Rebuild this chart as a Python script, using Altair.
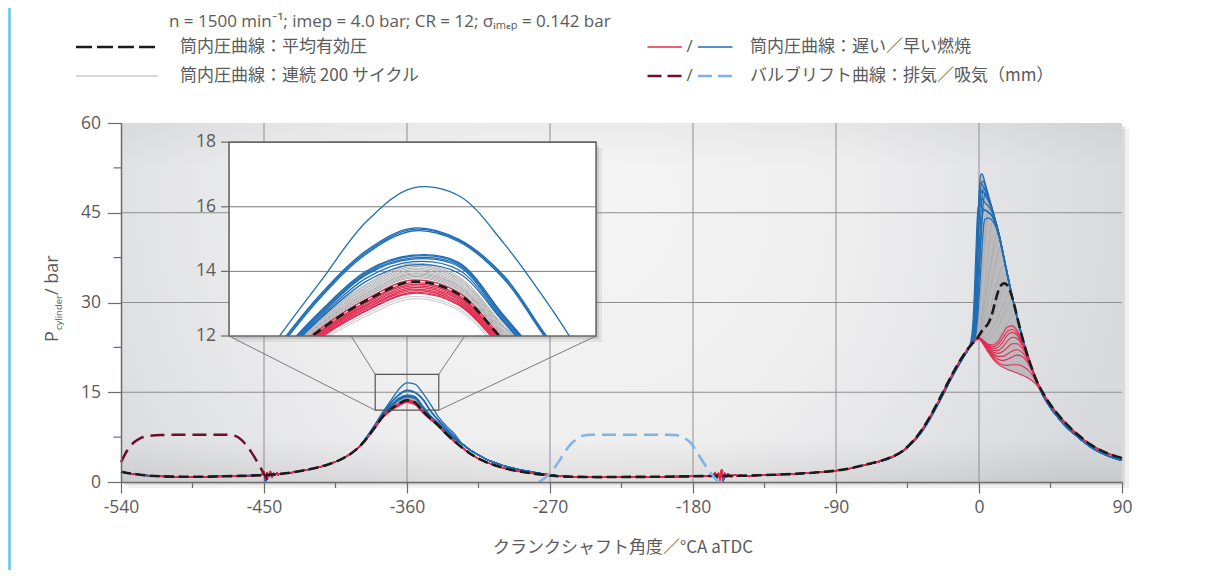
import altair as alt
import pandas as pd

alt.data_transformers.disable_max_rows()

# ---------------- layout ----------------
W, H = 1001, 359
PAD = {"left": 113, "top": 115, "right": 70, "bottom": 88}

X_DOMAIN = [-540, 90]
Y_DOMAIN = [0, 60]
X_TICKS = [-540, -450, -360, -270, -180, -90, 0, 90]
X_MINOR = [-495, -405, -315, -225, -135, -45, 45]
Y_TICKS = [0, 15, 30, 45, 60]
Y_MINOR = [7.5, 22.5, 37.5, 52.5]
GRID_X = [-450, -360, -270, -180, -90, 0]
GRID_Y = [15, 30, 45]

ZOOM_X = [-380, -340]
ZOOM_Y = [12, 18]
INSET_AT_X = [-472, -241]
INSET_AT_Y = [24.4, 56.8]
INSET_TICKS = [12, 14, 16, 18]
INSET_GRID = [14, 16]

# ---------------- texts ----------------
PARAMS = "n = 1500 min⁻¹; imep = 4.0 bar; CR = 12; σᵢₘₑₚ = 0.142 bar"
LEG_MEAN = "筒内圧曲線：平均有効圧"
LEG_CYC = "筒内圧曲線：連続 200 サイクル"
LEG_BURN = "筒内圧曲線：遅い／早い燃焼"
LEG_VALVE = "バルブリフト曲線：排気／吸気（mm）"
X_TITLE = "クランクシャフト角度／°CA aTDC"
Y_TITLE = ["P", "cylinder", "/ bar"]

# ---------------- data: gas exchange part ----------------
X_A = [-540, -536, -532, -528, -522, -515, -505, -495, -485, -475, -465, -455,
       -450, -445, -440, -435, -430, -420, -410, -400, -395, -390]
A_MEAN = [1.7, 1.5, 1.35, 1.2, 1.05, 0.95, 0.9, 0.88, 0.9, 0.95, 1.02, 1.1,
          1.15, 1.25, 1.35, 1.5, 1.7, 2.2, 2.9, 4.0, 4.8, 5.9]
X_NA = [-454, -452, -450, -449, -448, -447, -446, -445, -444, -443, -442, -441, -440, -438]
NA_R = [1.1, 1.15, 1.7, 0.5, 1.6, 0.9, 1.8, 1.0, 1.5, 1.1, 1.55, 1.25, 1.4, 1.4]
NA_B = [1.1, 1.2, 1.4, 0.1, 1.2, 1.0, 1.5, 0.8, 1.3, 1.2, 1.45, 1.2, 1.35, 1.4]

# ---------------- data: peak near -360 ----------------
PX = [-385, -380, -375, -370, -365, -360, -355, -350, -345, -340, -335, -330]
P_MEAN = [7.4, 9.2, 11.0, 12.2, 13.1, 13.68, 13.3, 11.85, 10.6, 9.4, 8.0, 6.8]
P_GRAY = [
    [7.49, 9.34, 11.26, 12.60, 13.61, 14.25, 13.84, 12.31, 10.94, 9.66, 8.20, 6.94],
    [7.47, 9.32, 11.21, 12.53, 13.52, 14.15, 13.75, 12.23, 10.88, 9.61, 8.16, 6.92],
    [7.46, 9.29, 11.17, 12.46, 13.43, 14.05, 13.65, 12.15, 10.82, 9.57, 8.13, 6.89],
    [7.44, 9.27, 11.12, 12.39, 13.34, 13.95, 13.56, 12.07, 10.76, 9.52, 8.09, 6.87],
    [7.43, 9.25, 11.09, 12.34, 13.28, 13.88, 13.49, 12.01, 10.72, 9.49, 8.07, 6.85],
    [7.42, 9.23, 11.05, 12.28, 13.21, 13.80, 13.41, 11.95, 10.67, 9.45, 8.04, 6.83],
    [7.48, 9.33, 11.23, 12.56, 13.57, 14.20, 13.79, 12.27, 10.91, 9.63, 8.18, 6.93],
    [7.46, 9.31, 11.19, 12.49, 13.48, 14.10, 13.70, 12.19, 10.85, 9.59, 8.15, 6.91],
    [7.45, 9.28, 11.14, 12.42, 13.39, 14.00, 13.60, 12.11, 10.79, 9.54, 8.11, 6.88],
    [7.44, 9.26, 11.11, 12.37, 13.32, 13.92, 13.53, 12.04, 10.74, 9.51, 8.08, 6.86],
    [7.42, 9.24, 11.07, 12.31, 13.24, 13.84, 13.45, 11.98, 10.70, 9.47, 8.06, 6.84],
    [7.41, 9.22, 11.03, 12.24, 13.15, 13.74, 13.36, 11.90, 10.64, 9.43, 8.02, 6.82],
]
P_GRAY_LIGHT = [
    [7.39, 9.18, 10.96, 12.14, 13.03, 13.60, 13.22, 11.79, 10.55, 9.36, 7.97, 6.78],
    [7.37, 9.15, 10.92, 12.07, 12.94, 13.50, 13.13, 11.71, 10.49, 9.32, 7.94, 6.75],
    [7.36, 9.13, 10.88, 12.02, 12.87, 13.42, 13.05, 11.64, 10.44, 9.28, 7.91, 6.73],
    [7.35, 9.11, 10.84, 11.95, 12.78, 13.32, 12.96, 11.56, 10.38, 9.24, 7.87, 6.71],
    [7.33, 9.08, 10.79, 11.88, 12.69, 13.22, 12.86, 11.48, 10.32, 9.19, 7.84, 6.68],
    [7.32, 9.07, 10.76, 11.83, 12.62, 13.15, 12.80, 11.43, 10.28, 9.16, 7.81, 6.67],
]
P_RED = [
    [7.41, 9.21, 11.02, 12.24, 13.15, 13.73, 13.35, 11.89, 10.63, 9.42, 8.02, 6.81],
    [7.40, 9.19, 10.99, 12.18, 13.07, 13.65, 13.27, 11.83, 10.58, 9.39, 7.99, 6.79],
    [7.39, 9.18, 10.96, 12.14, 13.03, 13.60, 13.22, 11.79, 10.55, 9.36, 7.97, 6.78],
    [7.38, 9.17, 10.94, 12.11, 12.98, 13.55, 13.18, 11.75, 10.52, 9.34, 7.95, 6.77],
    [7.37, 9.15, 10.92, 12.07, 12.94, 13.50, 13.13, 11.71, 10.49, 9.32, 7.94, 6.75],
    [7.37, 9.14, 10.90, 12.04, 12.89, 13.45, 13.08, 11.67, 10.46, 9.30, 7.92, 6.74],
    [7.36, 9.13, 10.87, 12.00, 12.85, 13.40, 13.03, 11.63, 10.43, 9.27, 7.90, 6.73],
    [7.35, 9.12, 10.85, 11.97, 12.80, 13.35, 12.99, 11.59, 10.40, 9.25, 7.88, 6.72],
    [7.35, 9.11, 10.84, 11.95, 12.78, 13.32, 12.96, 11.56, 10.38, 9.24, 7.87, 6.71],
]
P_BLUE = [
    [7.70, 9.70, 11.80, 13.70, 15.55, 16.58, 16.35, 14.85, 12.90, 10.80, 9.30, 8.00],
    [7.65, 9.55, 11.55, 13.30, 14.65, 15.34, 15.00, 13.85, 11.85, 10.30, 8.90, 7.60],
    [7.64, 9.53, 11.50, 13.25, 14.60, 15.30, 14.97, 13.80, 11.80, 10.25, 8.85, 7.57],
    [7.63, 9.50, 11.45, 13.20, 14.55, 15.25, 14.93, 13.75, 11.75, 10.20, 8.80, 7.55],
    [7.55, 9.40, 11.25, 12.78, 14.02, 14.50, 14.28, 12.60, 11.00, 9.75, 8.45, 7.30],
    [7.54, 9.38, 11.22, 12.75, 13.98, 14.47, 14.25, 12.62, 11.00, 9.72, 8.43, 7.28],
    [7.53, 9.37, 11.20, 12.70, 13.94, 14.42, 14.20, 12.55, 10.95, 9.70, 8.40, 7.25],
    [7.52, 9.35, 11.17, 12.66, 13.90, 14.38, 14.15, 12.50, 10.90, 9.65, 8.37, 7.22],
    [7.50, 9.33, 11.13, 12.60, 13.80, 14.30, 14.05, 12.45, 10.85, 9.60, 8.33, 7.20],
    [7.50, 9.32, 11.10, 12.55, 13.70, 14.20, 13.95, 12.40, 10.80, 9.55, 8.30, 7.18],
]

# ---------------- data: expansion / intake / compression ----------------
X_C = [-325, -320, -315, -310, -300, -290, -280, -270, -260, -250, -240, -220, -200,
       -180, -170, -150, -130, -110, -100, -90, -80, -70, -60, -55, -50, -45, -40,
       -35, -30, -25, -20, -15, -10, -8, -6, -4, -2]
C_MEAN = [5.7, 4.7, 3.9, 3.3, 2.4, 1.8, 1.4, 1.1, 0.9, 0.85, 0.82, 0.85, 0.88,
          0.95, 1.0, 1.05, 1.2, 1.45, 1.65, 1.9, 2.35, 3.0, 3.7, 4.2, 4.85, 5.9, 7.3,
          9.1, 11.3, 13.8, 16.4, 18.9, 21.1, 21.9, 22.6, 23.2, 23.75]
C_BLUE = [6.3, 5.3, 4.5, 3.8, 2.8, 2.1, 1.6, 1.2, 0.95, 0.87, 0.83, 0.85, 0.88,
          0.95, 1.0, 1.05, 1.2, 1.45, 1.65, 1.88, 2.3, 2.95, 3.6, 4.1, 4.75, 5.75, 7.1,
          8.8, 10.95, 13.4, 16.0, 18.5, 20.8, 21.6]
X_NC = [-168, -166, -165, -164, -163, -162, -161, -160, -159, -158, -156, -154, -152, -150, -148]
NC_R = [1.0, 1.6, 0.6, 1.5, 0.3, 2.1, 0.5, 1.5, 0.8, 1.35, 0.9, 1.25, 1.0, 1.15, 1.05]
NC_B = [1.0, 1.3, 0.9, 1.2, 0.8, 1.6, 0.2, 1.3, 1.0, 1.2, 1.0, 1.15, 1.05, 1.1, 1.05]

# ---------------- data: combustion ----------------
X_D = [0, 2, 4, 6, 8, 10, 12, 14, 16, 18, 20, 22, 24, 27, 30, 33, 36, 40]
D_MEAN = [24.5, 25.3, 25.9, 26.6, 27.9, 29.9, 31.8, 32.9, 33.2, 32.8, 31.6, 29.8,
          27.6, 24.4, 21.6, 19.2, 17.1, 15.0]
G_COMB = [
    [26.5, 33.0, 40.5, 46.0, 45.8, 43.9, 41.9, 39.6, 37.1, 34.6, 32.1, 29.8, 27.5, 24.4, 21.6, 19.2, 17.1, 15.0],
    [25.0, 28.5, 33.5, 38.8, 43.2, 43.8, 41.9, 39.6, 37.1, 34.6, 32.1, 29.8, 27.5, 24.4, 21.6, 19.2, 17.1, 15.0],
    [24.6, 26.8, 30.0, 33.8, 37.5, 40.6, 41.7, 39.6, 37.1, 34.6, 32.1, 29.8, 27.5, 24.4, 21.6, 19.2, 17.1, 15.0],
    [24.5, 25.8, 27.8, 30.5, 33.3, 36.0, 38.3, 39.4, 37.1, 34.6, 32.1, 29.8, 27.5, 24.4, 21.6, 19.2, 17.1, 15.0],
    [24.4, 25.2, 26.4, 28.0, 30.0, 32.0, 34.0, 35.6, 36.4, 34.6, 32.1, 29.8, 27.5, 24.4, 21.6, 19.2, 17.1, 15.0],
    [24.3, 24.6, 25.2, 26.0, 27.0, 28.3, 29.8, 31.3, 32.6, 33.6, 32.0, 29.8, 27.5, 24.4, 21.6, 19.2, 17.1, 15.0],
    [24.2, 24.0, 23.9, 24.0, 24.4, 25.0, 25.9, 27.0, 28.2, 29.4, 30.4, 29.6, 27.5, 24.4, 21.6, 19.2, 17.1, 15.0],
    [24.1, 23.6, 23.2, 23.0, 23.1, 23.4, 24.0, 24.8, 25.7, 26.6, 27.4, 27.9, 27.2, 24.3, 21.6, 19.2, 17.1, 15.0],
    [28.0, 36.0, 42.0, 45.2, 45.7, 43.9, 41.9, 39.6, 37.1, 34.6, 32.1, 29.8, 27.5, 24.4, 21.6, 19.2, 17.1, 15.0],
    [25.0, 27.8, 31.0, 34.2, 37.0, 39.2, 40.4, 39.5, 37.1, 34.6, 32.1, 29.8, 27.5, 24.4, 21.6, 19.2, 17.1, 15.0],
    [24.3, 24.9, 25.8, 27.0, 28.5, 30.2, 31.9, 33.4, 34.6, 34.5, 32.1, 29.8, 27.5, 24.4, 21.6, 19.2, 17.1, 15.0],
    [24.2, 24.2, 24.4, 24.8, 25.5, 26.5, 27.6, 28.8, 30.0, 31.1, 31.6, 29.8, 27.5, 24.4, 21.6, 19.2, 17.1, 15.0],
]
RX = [0, 3, 6, 9, 12, 15, 18, 21, 24, 27, 30, 33, 36, 40]
R_COMB = [
    [24.1, 23.6, 23.0, 22.9, 23.5, 24.8, 25.9, 26.1, 25.3, 23.7, 21.8, 19.3, 17.2, 15.0],
    [24.1, 23.5, 22.8, 22.6, 23.0, 24.1, 25.2, 25.5, 24.9, 23.5, 21.7, 19.3, 17.2, 15.0],
    [24.1, 23.5, 22.7, 22.3, 22.5, 23.4, 24.6, 25.0, 24.5, 23.2, 21.6, 19.3, 17.2, 15.0],
    [24.0, 23.4, 22.6, 22.0, 22.0, 22.6, 23.6, 24.2, 24.0, 22.9, 21.4, 19.2, 17.1, 15.0],
    [24.0, 23.3, 22.4, 21.7, 21.5, 21.8, 22.5, 23.1, 23.1, 22.4, 21.1, 19.1, 17.1, 15.0],
    [24.0, 23.2, 22.2, 21.4, 21.0, 21.0, 21.4, 21.9, 22.1, 21.7, 20.7, 19.0, 17.0, 15.0],
    [23.9, 23.1, 22.0, 21.1, 20.5, 20.3, 20.5, 20.9, 21.2, 21.0, 20.2, 18.8, 16.9, 14.9],
    [23.9, 23.0, 21.8, 20.8, 20.0, 19.6, 19.5, 19.6, 19.6, 19.4, 18.9, 18.1, 16.7, 14.9],
    [23.9, 22.9, 21.6, 20.5, 19.7, 19.2, 18.8, 18.5, 18.2, 17.9, 17.5, 17.0, 16.3, 14.8],
]
BX = [-6, -4, -3, -2, -1, 0, 1, 2, 3, 4, 6, 8, 10, 13, 16, 20, 25, 30, 35, 40]
B_COMB = [
    [22.5, 23.3, 25.5, 31.0, 40.0, 48.0, 51.3, 51.5, 50.8, 49.8, 47.9, 46.0, 44.1, 41.0, 37.2, 32.2, 26.6, 21.7, 17.8, 14.7],
    [22.5, 23.2, 24.5, 28.0, 35.0, 43.0, 48.5, 50.3, 50.2, 49.4, 47.7, 45.9, 44.0, 41.0, 37.1, 32.1, 26.5, 21.6, 17.7, 14.6],
    [22.5, 23.2, 24.0, 26.0, 31.0, 38.0, 44.0, 47.8, 49.2, 49.1, 47.5, 45.8, 43.9, 40.9, 37.0, 32.0, 26.5, 21.6, 17.7, 14.6],
    [22.5, 23.1, 23.6, 25.0, 28.5, 34.0, 40.0, 44.5, 47.3, 48.2, 47.3, 45.7, 43.8, 40.8, 37.0, 32.0, 26.4, 21.5, 17.6, 14.6],
    [22.6, 26.0, 31.0, 38.0, 44.5, 46.4, 46.3, 45.9, 45.6, 45.4, 45.0, 44.5, 43.4, 40.6, 36.9, 31.9, 26.4, 21.5, 17.6, 14.6],
    [22.5, 24.5, 28.0, 34.0, 41.0, 46.0, 47.4, 47.3, 47.0, 46.6, 46.1, 45.2, 43.8, 40.8, 37.0, 32.0, 26.5, 21.6, 17.7, 14.6],
    [22.5, 23.6, 26.5, 32.0, 38.5, 44.5, 48.2, 48.7, 48.4, 47.9, 46.9, 45.6, 43.9, 40.9, 37.1, 32.1, 26.5, 21.6, 17.7, 14.6],
    [22.5, 23.2, 24.2, 26.5, 30.0, 35.0, 40.0, 44.0, 45.4, 45.4, 45.1, 44.6, 43.5, 40.7, 36.9, 31.9, 26.4, 21.5, 17.6, 14.6],
    [22.5, 23.5, 26.0, 33.0, 41.5, 47.5, 50.0, 49.8, 49.2, 48.6, 47.4, 45.9, 44.0, 41.0, 37.1, 32.1, 26.5, 21.6, 17.7, 14.6],
    [22.5, 23.1, 23.5, 24.8, 27.0, 30.5, 35.0, 39.5, 43.0, 44.0, 44.1, 43.8, 43.0, 40.5, 36.8, 31.9, 26.4, 21.5, 17.6, 14.6],
]
# envelope of the 200 consecutive cycles in the combustion zone
BAND_X = BX
BAND_HI = [22.6, 26.0, 31.0, 38.0, 44.5, 48.0, 51.3, 51.5, 50.8, 49.8, 47.9, 46.0, 44.1, 41.0, 37.2, 32.2, 26.6, 21.7, 17.8, 15.0]
BAND_LO = [22.6, 23.2, 23.5, 23.75, 23.85, 23.9, 23.6, 23.25, 22.9, 22.5, 21.6, 20.85, 20.2, 19.5, 19.05, 18.6, 18.1, 17.5, 16.6, 14.8]

X_T = [45, 50, 55, 60, 65, 70, 75, 80, 85, 90]
T_MEAN = [12.9, 11.2, 9.7, 8.4, 7.3, 6.3, 5.5, 4.9, 4.4, 4.0]
T_BLUE = [12.4, 10.7, 9.2, 8.0, 6.9, 5.9, 5.1, 4.5, 4.0, 3.6]

# ---------------- data: valve lift (mm) ----------------
EXH_X = [-540, -536, -532, -528, -522, -515, -500, -472, -468, -464, -461, -458, -455, -452, -449, -446.5]
EXH_Y = [3.3, 5.3, 6.6, 7.3, 7.7, 7.85, 7.9, 7.9, 7.7, 7.0, 6.1, 5.0, 3.7, 2.3, 0.9, 0.0]
INT_X = [-277, -273, -269, -265, -261, -257, -253, -249, -244, -195, -190, -186, -182, -178, -174, -170, -167, -164.5]
INT_Y = [0.0, 0.7, 1.8, 3.2, 4.9, 6.3, 7.2, 7.75, 7.9, 7.9, 7.8, 7.4, 6.7, 5.2, 3.5, 1.9, 0.9, 0.1]

# ---------------- styles ----------------
FONT = "'Open Sans', Lato, 'DejaVu Sans', sans-serif"
JFONT = "'Noto Sans CJK JP', 'Noto Sans CJK SC', sans-serif"
TXT = "#5a5a5a"
AXISC = "#6b6b6b"
GRIDC = "#8e8e8e"
GRAY = "#adadb0"
GRAY_L = "#c6c6c8"
BAND = "#bbbbbe"
BLUE = "#1f6db5"
RED = "#e32a50"
BLACK = "#1b1b1b"
EXH = "#6a1028"
INT = "#7db4e4"
CYAN = "#5ec4ef"

# ---------------- assemble long data ----------------
rows = []


def add_cycle(group, cid, pts):
    for x, y in pts:
        rows.append({"group": group, "cycle": cid, "x": x, "y": y})


def part_a(noise):
    out = [(x, y) for x, y in zip(X_A, A_MEAN) if x < X_NA[0] or x > X_NA[-1]]
    return out + list(zip(X_NA, noise))


def part_c(vals, noise):
    out = [(x, y) for x, y in zip(X_C, vals) if x < X_NC[0] or x > X_NC[-1]]
    return out + list(zip(X_NC, noise))


add_cycle("mean", "mean", list(zip(X_A, A_MEAN)) + list(zip(PX, P_MEAN)) + list(zip(X_C, C_MEAN))
          + list(zip(X_D, D_MEAN)) + list(zip(X_T, T_MEAN)))
for i, pk in enumerate(P_GRAY):
    add_cycle("gray", f"g{i}", part_a(NA_R) + list(zip(PX, pk)) + part_c(C_MEAN, NC_R)
              + list(zip(X_D, G_COMB[i % len(G_COMB)])) + list(zip(X_T, T_MEAN)))
for i, pk in enumerate(P_GRAY_LIGHT):
    add_cycle("grayl", f"l{i}", part_a(NA_R) + list(zip(PX, pk)) + part_c(C_MEAN, NC_R)
              + list(zip(X_D, G_COMB[(i + 5) % len(G_COMB)])) + list(zip(X_T, T_MEAN)))
for i, pk in enumerate(P_RED):
    add_cycle("red", f"r{i}", part_a(NA_R) + list(zip(PX, pk)) + part_c(C_MEAN, NC_R)
              + list(zip(RX, R_COMB[i])) + list(zip(X_T, T_MEAN)))
for i, pk in enumerate(P_BLUE):
    add_cycle("blue", f"b{i}", part_a(NA_B) + list(zip(PX, pk)) + part_c(C_BLUE, NC_B)
              + list(zip(BX, B_COMB[i])) + list(zip(X_T, T_BLUE)))

df = pd.DataFrame(rows)
band_df = pd.DataFrame({"x": BAND_X, "lo": BAND_LO, "hi": BAND_HI})
exh_df = pd.DataFrame({"x": EXH_X, "y": EXH_Y, "cycle": "exh"})
int_df = pd.DataFrame({"x": INT_X, "y": INT_Y, "cycle": "int"})

# ---------------- scales ----------------
def px_x(v):
    return (v - X_DOMAIN[0]) / (X_DOMAIN[1] - X_DOMAIN[0]) * W


def px_y(v):
    return (Y_DOMAIN[1] - v) / (Y_DOMAIN[1] - Y_DOMAIN[0]) * H


IX0, IX1 = px_x(INSET_AT_X[0]), px_x(INSET_AT_X[1])
IY0, IY1 = px_y(INSET_AT_Y[1]), px_y(INSET_AT_Y[0])

XS = alt.Scale(domain=X_DOMAIN, nice=False, zero=False)
YS = alt.Scale(domain=Y_DOMAIN, nice=False, zero=False)
IXS = alt.Scale(domain=ZOOM_X, range=[IX0, IX1], nice=False, zero=False)
IYS = alt.Scale(domain=ZOOM_Y, range=[IY1, IY0], nice=False, zero=False)

X_AXIS = alt.Axis(values=X_TICKS, labelExpr="'' + datum.value", title=None, grid=False,
                  tickSize=11, tickColor=AXISC, tickWidth=1.2, domainColor=AXISC, domainWidth=1.5,
                  labelFont=FONT, labelFontSize=17.5, labelFontWeight=400, labelColor=TXT,
                  labelPadding=5, labelFlush=False, labelOverlap=False, zindex=1)
Y_AXIS = alt.Axis(values=Y_TICKS, labelExpr="'' + datum.value", title=None, grid=False,
                  tickSize=13.5, tickColor=AXISC, tickWidth=1.2, domainColor=AXISC, domainWidth=1.5,
                  labelFont=FONT, labelFontSize=17.5, labelFontWeight=400, labelColor=TXT,
                  labelPadding=7, labelFlush=False, labelOverlap=False, zindex=1)


def mx(f="x"):
    return alt.X(f"{f}:Q", scale=XS, axis=X_AXIS)


def my(f="y"):
    return alt.Y(f"{f}:Q", scale=YS, axis=Y_AXIS)


def ix(f="x"):
    return alt.X(f"{f}:Q", scale=IXS, axis=None)


def iy(f="y"):
    return alt.Y(f"{f}:Q", scale=IYS, axis=None)


CLIP_EXPR = {"expr": "pathShape('M%.2f,%.2fH%.2fV%.2fH%.2fZ')" % (IX0, IY0, IX1, IY1, IX0)}


def clip_ok():
    try:
        alt.Chart(pd.DataFrame({"a": [0]})).mark_line(clip=CLIP_EXPR).encode(
            x="a:Q", y="a:Q").to_dict()
        return True
    except Exception:
        return False


CLIP = CLIP_EXPR if clip_ok() else True

ONE = pd.DataFrame({"k": [0]})
plot_df = pd.DataFrame({"x": [X_DOMAIN[0]], "x2": [X_DOMAIN[1]], "y": [Y_DOMAIN[0]], "y2": [Y_DOMAIN[1]]})
zoom_df = pd.DataFrame({"x": [ZOOM_X[0]], "x2": [ZOOM_X[1]], "y": [ZOOM_Y[0]], "y2": [ZOOM_Y[1]]})
conn_df = pd.DataFrame({
    "x": [ZOOM_X[0], ZOOM_X[0], ZOOM_X[1], ZOOM_X[1]],
    "y": [ZOOM_Y[0], ZOOM_Y[1], ZOOM_Y[1], ZOOM_Y[0]],
    "x2": [INSET_AT_X[0], INSET_AT_X[0], INSET_AT_X[1], INSET_AT_X[1]],
    "y2": [INSET_AT_Y[0], INSET_AT_Y[1], INSET_AT_Y[1], INSET_AT_Y[0]],
})


def frame(data, xe, ye, **mark):
    return alt.Chart(data).mark_rect(**mark).encode(x=xe("x"), x2="x2:Q", y=ye("y"), y2="y2:Q")


def lines(data, color, width, dash=None, inset=False):
    kw = dict(color=color, strokeWidth=width,
              interpolate=("catmull-rom" if inset else "monotone"))
    if dash:
        kw["strokeDash"] = dash
    if inset:
        kw["clip"] = CLIP
    xe, ye = (ix, iy) if inset else (mx, my)
    return alt.Chart(data).mark_line(**kw).encode(x=xe(), y=ye(), detail="cycle:N")


def label(text, x, y, size=17, font=FONT, align="left", angle=0, weight=400, color=TXT):
    return alt.Chart(ONE).mark_text(align=align, baseline="middle", font=font, fontSize=size,
                                    fontWeight=weight, color=color, angle=angle).encode(
        x=alt.value(x), y=alt.value(y), text=alt.value(text))


def hline(x1, x2, y, color, width, dash=None):
    kw = dict(color=color, strokeWidth=width)
    if dash:
        kw["strokeDash"] = dash
    return alt.Chart(ONE).mark_rule(**kw).encode(x=alt.value(x1), x2=alt.value(x2), y=alt.value(y))


radial = {"gradient": "radial", "x1": 0.45, "y1": 0.4, "r1": 0, "x2": 0.45, "y2": 0.4, "r2": 0.56,
          "stops": [{"offset": 0, "color": "#f5f5f5"}, {"offset": 0.5, "color": "#eeeeef"},
                    {"offset": 1, "color": "#d8d9dc"}]}
vert = {"gradient": "linear", "x1": 0, "y1": 0, "x2": 0, "y2": 1,
        "stops": [{"offset": 0, "color": "rgba(0,0,0,0.035)"}, {"offset": 0.12, "color": "rgba(0,0,0,0)"},
                  {"offset": 0.88, "color": "rgba(0,0,0,0)"}, {"offset": 1, "color": "rgba(0,0,0,0.07)"}]}

g = lambda name: df[df.group == name]

main_layers = [
    frame(plot_df, mx, my, color="#888888", opacity=0.12, xOffset=7, x2Offset=7, yOffset=6, y2Offset=6),
    frame(plot_df, mx, my, color="#888888", opacity=0.22, xOffset=3, x2Offset=3, yOffset=3, y2Offset=3),
    frame(plot_df, mx, my, color=radial),
    frame(plot_df, mx, my, color=vert),
    alt.Chart(pd.DataFrame({"v": GRID_X})).mark_rule(color=GRIDC, strokeWidth=1).encode(
        x=mx("v"), y=alt.value(0), y2=alt.value(H)),
    alt.Chart(pd.DataFrame({"v": GRID_Y})).mark_rule(color=GRIDC, strokeWidth=1).encode(
        y=my("v"), x=alt.value(0), x2=alt.value(W)),
    alt.Chart(band_df).mark_area(color=BAND, interpolate="monotone").encode(
        x=mx(), y=my("lo"), y2="hi:Q"),
    lines(g("grayl"), GRAY_L, 1.0),
    lines(g("gray"), GRAY, 1.0),
    lines(g("blue"), BLUE, 1.25),
    lines(g("red"), RED, 1.1),
    lines(g("mean"), BLACK, 2.6, dash=[10, 4.5]),
    lines(exh_df, EXH, 2.5, dash=[14, 7]),
    lines(int_df, INT, 2.5, dash=[14, 7]),
    frame(zoom_df, mx, my, fillOpacity=0, stroke="#555555", strokeWidth=1.2),
    alt.Chart(conn_df).mark_rule(color="#7a7a7a", strokeWidth=1).encode(
        x=mx(), y=my(), x2="x2:Q", y2="y2:Q"),
    alt.Chart(pd.DataFrame({"v": X_MINOR})).mark_rule(color=AXISC, strokeWidth=1.2).encode(
        x=mx("v"), y=alt.value(H), y2=alt.value(H + 6)),
    alt.Chart(pd.DataFrame({"v": Y_MINOR})).mark_rule(color=AXISC, strokeWidth=1.2).encode(
        y=my("v"), x=alt.value(-7.5), x2=alt.value(0)),
    alt.Chart(ONE).mark_rule(color=CYAN, strokeWidth=2.5).encode(
        x=alt.value(-111.5), y=alt.value(-PAD["top"]), y2=alt.value(H + PAD["bottom"])),
    # legend
    label(PARAMS, 48, -101, size=17),
    hline(-45, 37, -76, BLACK, 2.4, dash=[16, 5]),
    label(LEG_MEAN, 59, -76, font=JFONT),
    hline(-45, 37, -47, GRAY, 1.2),
    label(LEG_CYC, 59, -47, font=JFONT),
    hline(526.5, 560.8, -76, RED, 1.3),
    label("/", 568.5, -76, align="center"),
    hline(577, 611.5, -76, BLUE, 1.3),
    label(LEG_BURN, 629, -76, font=JFONT),
    hline(526.5, 560.8, -47, EXH, 2.4, dash=[14, 6]),
    label("/", 568.5, -47, align="center"),
    hline(577, 611.5, -47, INT, 2.4, dash=[14, 6]),
    label(LEG_VALVE, 629, -47, font=JFONT),
    # axis titles
    label(X_TITLE, 502, 425, size=17, font=JFONT, align="center"),
    label(Y_TITLE[0], -68, 219, size=18, angle=270),
    label(Y_TITLE[1], -62.5, 207, size=9.5, angle=270),
    label(Y_TITLE[2], -68, 172, size=18, angle=270),
]

idf = df[(df.x >= -392) & (df.x <= -328)]
ig = lambda name: idf[idf.group == name]

inset_layers = [
    frame(zoom_df, ix, iy, color="#777777", opacity=0.12, xOffset=6, x2Offset=6, yOffset=6, y2Offset=6),
    frame(zoom_df, ix, iy, color="#777777", opacity=0.22, xOffset=3, x2Offset=3, yOffset=3, y2Offset=3),
    frame(zoom_df, ix, iy, color="white"),
    alt.Chart(pd.DataFrame({"v": INSET_GRID})).mark_rule(color="#7a7a7a", strokeWidth=1).encode(
        y=iy("v"), x=alt.value(IX0), x2=alt.value(IX1)),
    lines(ig("grayl"), GRAY_L, 1.0, inset=True),
    lines(ig("gray"), GRAY, 1.0, inset=True),
    lines(ig("blue"), BLUE, 1.3, inset=True),
    lines(ig("red"), RED, 1.2, inset=True),
    lines(ig("mean"), BLACK, 2.6, dash=[9, 5], inset=True),
    frame(zoom_df, ix, iy, fillOpacity=0, stroke="#666666", strokeWidth=1.6),
    alt.Chart(pd.DataFrame({"v": INSET_TICKS})).mark_rule(color=AXISC, strokeWidth=1.2).encode(
        y=iy("v"), x=alt.value(IX0 - 8), x2=alt.value(IX0)),
    alt.Chart(pd.DataFrame({"v": INSET_TICKS})).mark_text(
        align="right", baseline="middle", font=FONT, fontSize=17.5, fontWeight=400, color=TXT).encode(
        y=iy("v"), x=alt.value(IX0 - 13), text=alt.Text("v:Q")),
]

chart = alt.layer(alt.layer(*main_layers), alt.layer(*inset_layers)).resolve_scale(
    x="independent", y="independent"
).properties(
    width=W, height=H, padding=PAD, autosize=alt.AutoSizeParams(type="none"), background="white"
).configure_view(stroke=None)

chart.save("out.html", embed_options={"renderer": "svg", "actions": False})
